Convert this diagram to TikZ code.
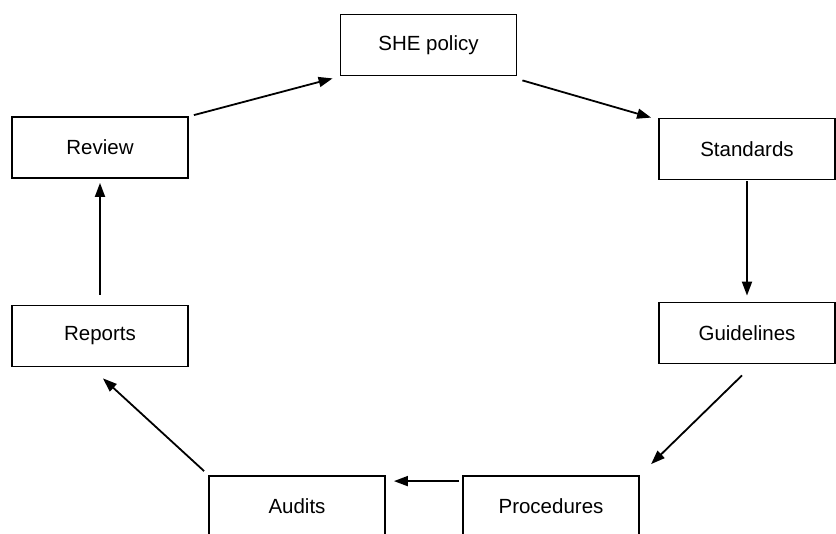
\documentclass[tikz,border=0pt]{standalone}
\usepackage{fontspec}
\setmainfont{Liberation Sans}
\usetikzlibrary{arrows.meta}
\begin{document}
\begin{tikzpicture}[x=1pt,y=-1pt,
  box/.style={draw,line width=1.8pt,minimum width=176pt,minimum height=61pt,inner sep=0pt,font=\fontsize{20.5}{23}\selectfont},
  arr/.style={line width=1.8pt,-{Triangle[length=14pt,width=10pt]}}]
\useasboundingbox (0,0) rectangle (836,534);
\clip (0,0) rectangle (836,534);
\node[box] (she) at (428.5,45) {SHE policy};
\node[box] (rev) at (100,147.5) {Review};
\node[box] (std) at (747,149) {Standards};
\node[box] (rep) at (100,336) {Reports};
\node[box] (gui) at (747,333) {Guidelines};
\node[box] (aud) at (297,506.5) {Audits};
\node[box] (pro) at (551,506.5) {Procedures};
\draw[arr] ([shift={(5,-1)}]rev.north east) -- ([shift={(-7,2)}]she.south west);
\draw[arr] ([shift={(5,4)}]she.south east) -- ([shift={(-7,0)}]std.north west);
\draw[arr] ([shift={(0,1)}]std.south) -- ([shift={(0,-6)}]gui.north);
\draw[arr] ([shift={(-5,11)}]gui.south) -- ([shift={(189,-11)}]pro.north west);
\draw[arr] ([shift={(-3,6)}]pro.north west) -- ([shift={(8,6)}]aud.north east);
\draw[arr] ([shift={(-4,-4)}]aud.north west) -- ([shift={(3,11)}]rep.south);
\draw[arr] ([shift={(0,-10)}]rep.north) -- ([shift={(0,4)}]rev.south);
\end{tikzpicture}
\end{document}
